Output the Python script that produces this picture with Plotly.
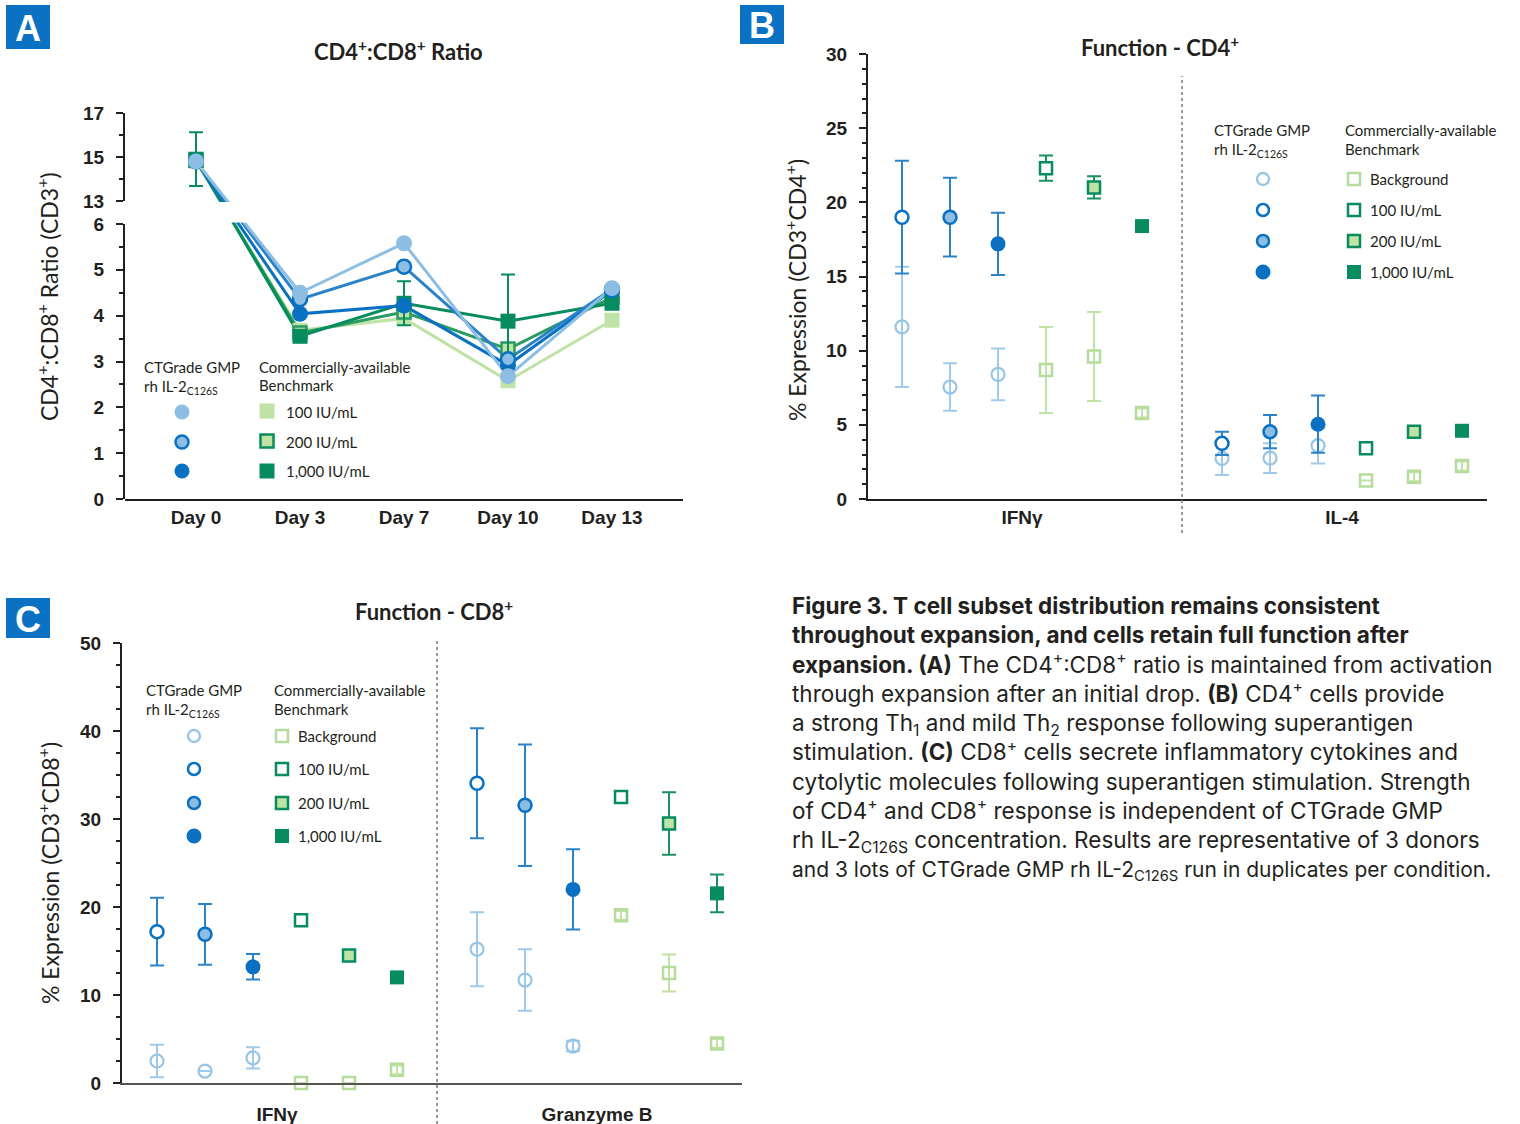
import plotly.graph_objects as go

W, H = 1520, 1124
INK = "#231f20"
DB = "#0a70c2"      # dark blue
MB = "#2a82c8"      # blue error bars / lines
LB = "#8cbee3"      # light blue fill
LBL = "#95c4e6"     # light blue outline (background)
DG = "#078c5d"      # dark green
MG = "#2a9b63"      # medium green line
LG = "#bfe3a6"      # light green fill
LGL = "#b5dc9a"     # light green outline (background)

# ---------------- Panel A data : CD4+:CD8+ ratio ----------------
days = ["Day 0", "Day 3", "Day 7", "Day 10", "Day 13"]
ratio_ct100 = [14.8, 4.50, 5.58, 2.68, 4.60]
ratio_ct200 = [14.8, 4.36, 5.07, 3.05, 4.58]
ratio_ct1000 = [14.8, 4.04, 4.22, 2.92, 4.55]
ratio_bm100 = [14.8, 3.68, 3.94, 2.58, 3.90]
ratio_bm200 = [14.85, 3.62, 4.08, 3.27, 4.40]
ratio_bm1000 = [14.9, 3.55, 4.27, 3.88, 4.27]
ratio_bm1000_err = [1.22, 0.0, 0.48, 1.02, 0.0]

# ---------------- Panel B data : Function - CD4+ ----------------
cd4_groups = ["IFNγ", "IL-4"]
cd4_ct100 = [19.0, 3.75]
cd4_ct100_err = [3.8, 0.79]
cd4_ct200 = [19.0, 4.54]
cd4_ct200_err = [2.65, 1.12]
cd4_ct1000 = [17.2, 5.04]
cd4_ct1000_err = [2.1, 1.93]
cd4_bm100 = [22.3, 3.42]
cd4_bm100_err = [0.85, 0.3]
cd4_bm200 = [21.0, 4.54]
cd4_bm200_err = [0.75, 0.0]
cd4_bm1000 = [18.4, 4.6]
cd4_bm1000_err = [0.0, 0.0]
cd4_bg_ct100 = [11.6, 2.74]
cd4_bg_ct100_err = [4.05, 1.12]
cd4_bg_ct200 = [7.55, 2.76]
cd4_bg_ct200_err = [1.6, 1.0]
cd4_bg_ct1000 = [8.4, 3.6]
cd4_bg_ct1000_err = [1.75, 1.2]
cd4_bg_bm100 = [8.7, 1.24]
cd4_bg_bm100_err = [2.9, 0.0]
cd4_bg_bm200 = [9.6, 1.5]
cd4_bg_bm200_err = [3.0, 0.3]
cd4_bg_bm1000 = [5.8, 2.22]
cd4_bg_bm1000_err = [0.3, 0.3]

# ---------------- Panel C data : Function - CD8+ ----------------
cd8_groups = ["IFNγ", "Granzyme B"]
cd8_ct100 = [17.2, 34.06]
cd8_ct100_err = [3.85, 6.25]
cd8_ct200 = [16.9, 31.56]
cd8_ct200_err = [3.45, 6.9]
cd8_ct1000 = [13.2, 22.0]
cd8_ct1000_err = [1.45, 4.55]
cd8_bm100 = [18.5, 32.5]
cd8_bm100_err = [0.5, 0.5]
cd8_bm200 = [14.5, 29.5]
cd8_bm200_err = [0.4, 3.55]
cd8_bm1000 = [12.0, 21.55]
cd8_bm1000_err = [0.0, 2.15]
cd8_bg_ct100 = [2.5, 15.2]
cd8_bg_ct100_err = [1.85, 4.2]
cd8_bg_ct200 = [1.36, 11.7]
cd8_bg_ct200_err = [0.0, 3.5]
cd8_bg_ct1000 = [2.85, 4.2]
cd8_bg_ct1000_err = [1.2, 0.6]
cd8_bg_bm100 = [0.0, 19.05]
cd8_bg_bm100_err = [0.0, 0.5]
cd8_bg_bm200 = [0.0, 12.5]
cd8_bg_bm200_err = [0.0, 2.1]
cd8_bg_bm1000 = [1.5, 4.5]
cd8_bg_bm1000_err = [0.5, 0.5]

legend_conc = ["100 IU/mL", "200 IU/mL", "1,000 IU/mL"]
legend_conc_bg = ["Background", "100 IU/mL", "200 IU/mL", "1,000 IU/mL"]

# ---------------- helpers ----------------
def dom_x(a, b):
    return [a / W, b / W]


def dom_y(top, bot):
    return [1 - bot / H, 1 - top / H]


TXT = "Lato, 'Open Sans', sans-serif"
TICKF = dict(family="Liberation Sans, Arial, sans-serif", size=19, color=INK, weight="bold")

fig = go.Figure()
shapes = []
annos = []


def ann(text, x, y, size=15, xanchor="left", family=TXT, color=INK, weight="normal", angle=0,
        yanchor="middle"):
    annos.append(dict(text=text, x=x / W, y=1 - y / H, xref="paper", yref="paper",
                      xanchor=xanchor, yanchor=yanchor, showarrow=False, textangle=angle, align="left",
                      font=dict(family=family, size=size, color=color, weight=weight)))


def sym(kind, cx, cy, d, fill, line, lw):
    shapes.append(dict(type=kind, xref="paper", yref="paper", xsizemode="pixel", ysizemode="pixel",
                       xanchor=cx / W, yanchor=1 - cy / H, x0=-d / 2, x1=d / 2, y0=-d / 2, y1=d / 2,
                       fillcolor=fill, line=dict(color=line, width=lw), layer="above"))


# ================= Panel A (broken y-axis) =================
A_LEFT, A_RIGHT = 125, 683
A_FIRST, A_STEP = 196, 104
A_LOW_TOP, A_LOW_BOT = 224, 499
A_UP_TOP, A_UP_BOT = 113, 201
A_LOW_RANGE = [0, 6]
A_UP_RANGE = [13, 17]
low_ppu = (A_LOW_BOT - A_LOW_TOP) / (A_LOW_RANGE[1] - A_LOW_RANGE[0])
up_ppu = (A_UP_BOT - A_UP_TOP) / (A_UP_RANGE[1] - A_UP_RANGE[0])
full_range = [0, (A_LOW_BOT - A_UP_TOP) / low_ppu]


def broken(v):
    """map a value onto the continuous (hidden) axis that spans both segments"""
    if v <= A_LOW_RANGE[1]:
        return v
    return (A_LOW_BOT - A_UP_BOT) / low_ppu + (v - A_UP_RANGE[0]) * up_ppu / low_ppu


seriesA = [
    (ratio_bm100, None, LG, dict(symbol="square", color=LG, size=15, line=dict(color=LG, width=0))),
    (ratio_bm200, None, MG, dict(symbol="square", color=LG, size=13, line=dict(color=MG, width=2.5))),
    (ratio_bm1000, ratio_bm1000_err, DG, dict(symbol="square", color=DG, size=15, line=dict(color=DG, width=0))),
    (ratio_ct1000, None, DB, dict(symbol="circle", color=DB, size=16, line=dict(color=DB, width=0))),
    (ratio_ct200, None, MB, dict(symbol="circle", color=LB, size=14, line=dict(color=DB, width=2.5))),
    (ratio_ct100, None, LB, dict(symbol="circle", color=LB, size=16, line=dict(color=LB, width=0))),
]

for vals, err, lc, mk in seriesA:
    fig.add_trace(go.Scatter(x=days, y=[broken(v) for v in vals], xaxis="x", yaxis="y",
                             mode="lines", line=dict(color=lc, width=3), showlegend=False,
                             hoverinfo="skip"))

for vals, err, lc, mk in seriesA:
    e0 = dict(type="data", array=[err[0]], color=DG, thickness=2, width=7, visible=True) if err else None
    e1 = dict(type="data", array=err[1:], color=DG, thickness=2, width=7, visible=True) if err else None
    fig.add_trace(go.Scatter(x=days[:1], y=vals[:1], xaxis="x", yaxis="y3", mode="markers",
                             marker=mk, error_y=e0, showlegend=False, cliponaxis=False))
    fig.add_trace(go.Scatter(x=days[1:], y=vals[1:], xaxis="x", yaxis="y2", mode="markers",
                             marker=mk, error_y=e1, showlegend=False, cliponaxis=False))

# gap of the broken axis
shapes.append(dict(type="rect", xref="paper", yref="paper", x0=(A_LEFT + 2) / W, x1=A_RIGHT / W,
                   y0=1 - (A_LOW_TOP - 1.5) / H, y1=1 - (A_UP_BOT + 1) / H,
                   fillcolor="white", line=dict(width=0), layer="above"))

# ================= Panels B and C (grouped dot plots) =================
GAP = 6.667   # distance between group centres in slot units
SLOT_PX = 48


def group_x(ngroups, slot):
    return [g * GAP + slot for g in range(ngroups)]


ct_styles = [
    dict(symbol="circle", color="white", size=13, line=dict(color=DB, width=2.5)),
    dict(symbol="circle", color=LB, size=13, line=dict(color=DB, width=2.5)),
    dict(symbol="circle", color=DB, size=15, line=dict(color=DB, width=0)),
]
bm_styles = [
    dict(symbol="square", color="white", size=12, line=dict(color=DG, width=2.5)),
    dict(symbol="square", color=LG, size=12, line=dict(color=DG, width=2.5)),
    dict(symbol="square", color=DG, size=14, line=dict(color=DG, width=0)),
]
bg_ct_style = dict(symbol="circle-open", color=LBL, size=13, line=dict(width=2.2))
bg_bm_style = dict(symbol="square-open", color=LGL, size=12, line=dict(width=2.5))


def add_dot_panel(xa, ya, stim, stim_err, bg, bg_err):
    ng = len(stim[0])
    # backgrounds first
    for s in range(6):
        style = bg_ct_style if s < 3 else bg_bm_style
        ecol = "#9fcaea" if s < 3 else "#bfe2a7"
        fig.add_trace(go.Scatter(x=group_x(ng, s), y=bg[s], xaxis=xa, yaxis=ya, mode="markers",
                                 marker=style, cliponaxis=False, showlegend=False,
                                 error_y=dict(type="data", array=bg_err[s], color=ecol,
                                              thickness=2, width=7)))
    for s in range(6):
        style = ct_styles[s] if s < 3 else bm_styles[s - 3]
        ecol = MB if s < 3 else "#1a8f60"
        fig.add_trace(go.Scatter(x=group_x(ng, s), y=stim[s], xaxis=xa, yaxis=ya, mode="markers",
                                 marker=style, cliponaxis=False, showlegend=False,
                                 error_y=dict(type="data", array=stim_err[s], color=ecol,
                                              thickness=2, width=7)))


add_dot_panel("x2", "y4",
              [cd4_ct100, cd4_ct200, cd4_ct1000, cd4_bm100, cd4_bm200, cd4_bm1000],
              [cd4_ct100_err, cd4_ct200_err, cd4_ct1000_err, cd4_bm100_err, cd4_bm200_err, cd4_bm1000_err],
              [cd4_bg_ct100, cd4_bg_ct200, cd4_bg_ct1000, cd4_bg_bm100, cd4_bg_bm200, cd4_bg_bm1000],
              [cd4_bg_ct100_err, cd4_bg_ct200_err, cd4_bg_ct1000_err, cd4_bg_bm100_err, cd4_bg_bm200_err,
               cd4_bg_bm1000_err])

add_dot_panel("x3", "y5",
              [cd8_ct100, cd8_ct200, cd8_ct1000, cd8_bm100, cd8_bm200, cd8_bm1000],
              [cd8_ct100_err, cd8_ct200_err, cd8_ct1000_err, cd8_bm100_err, cd8_bm200_err, cd8_bm1000_err],
              [cd8_bg_ct100, cd8_bg_ct200, cd8_bg_ct1000, cd8_bg_bm100, cd8_bg_bm200, cd8_bg_bm1000],
              [cd8_bg_ct100_err, cd8_bg_ct200_err, cd8_bg_ct1000_err, cd8_bg_bm100_err, cd8_bg_bm200_err,
               cd8_bg_bm1000_err])

# geometry of panels B and C
B_LEFT, B_RIGHT, B_FIRST = 868, 1487, 902
B_TOP, B_BOT = 54, 499
C_LEFT, C_RIGHT, C_FIRST = 122, 742, 157
C_TOP, C_BOT = 643, 1083


def yax(domain, rng, dtick, minor, anchor, standoff=8):
    return dict(domain=domain, range=rng, anchor=anchor, showline=True, linecolor=INK, linewidth=2,
                ticks="outside", ticklen=7, tickwidth=2, tickcolor=INK, tick0=rng[0], dtick=dtick,
                tickfont=TICKF, showgrid=False, zeroline=False, ticklabelstandoff=standoff,
                automargin=False,
                minor=dict(ticks="outside", ticklen=4, tickwidth=1.5, tickcolor=INK,
                           dtick=minor, tick0=rng[0], showgrid=False))


def xax_groups(domain, left, right, first, anchor, groups, linecolor, standoff):
    return dict(domain=domain, anchor=anchor,
                range=[(left - first) / SLOT_PX, (right - first) / SLOT_PX],
                tickmode="array", tickvals=[g * GAP + 2.5 for g in range(len(groups))],
                ticktext=groups, ticks="", showline=True, linecolor=linecolor, linewidth=2,
                showgrid=False, zeroline=False, tickfont=TICKF, ticklabelstandoff=standoff,
                automargin=False)


layout = dict(
    width=W, height=H, margin=dict(l=0, r=0, t=0, b=0, pad=0, autoexpand=False),
    paper_bgcolor="white", plot_bgcolor="rgba(0,0,0,0)", showlegend=False,
    # panel A
    xaxis=dict(domain=dom_x(A_LEFT, A_RIGHT), anchor="y", type="category", categoryarray=days,
               range=[(A_LEFT - A_FIRST) / A_STEP, (A_RIGHT - A_FIRST) / A_STEP],
               showline=True, linecolor=INK, linewidth=2, ticks="", showgrid=False, automargin=False,
               tickfont=dict(family="Liberation Sans, Arial, sans-serif", size=19, color=INK,
                             weight="bold"),
               ticklabelstandoff=0),
    yaxis=dict(domain=dom_y(A_UP_TOP, A_LOW_BOT), range=full_range, visible=False, anchor="x",
               automargin=False),
    yaxis2=yax(dom_y(A_LOW_TOP, A_LOW_BOT), A_LOW_RANGE, 1, 0.5, "x"),
    yaxis3=yax(dom_y(A_UP_TOP, A_UP_BOT), A_UP_RANGE, 2, 1, "x"),
    # panel B
    xaxis2=xax_groups(dom_x(B_LEFT, B_RIGHT), B_LEFT, B_RIGHT, B_FIRST, "y4", cd4_groups, INK, 0),
    yaxis4=yax(dom_y(B_TOP, B_BOT), [0, 30], 5, 1, "x2"),
    # panel C
    xaxis3=xax_groups(dom_x(C_LEFT, C_RIGHT), C_LEFT, C_RIGHT, C_FIRST, "y5", cd8_groups, "#555555", 13),
    yaxis5=yax(dom_y(C_TOP, C_BOT), [0, 50], 10, 2.5, "x3"),
)

# dotted dividers between the groups
shapes.append(dict(type="line", xref="x2", yref="paper", x0=2.5 + GAP / 2, x1=2.5 + GAP / 2,
                   y0=1 - 533 / H, y1=1 - 76 / H, line=dict(color="#7a7a7a", width=1.5, dash="dot")))
shapes.append(dict(type="line", xref="x3", yref="paper", x0=2.5 + GAP / 2, x1=2.5 + GAP / 2,
                   y0=0, y1=1 - 640 / H, line=dict(color="#7a7a7a", width=1.5, dash="dot")))

# panel letters
for letter, (x0, y0, x1, y1) in {"A": (6, 5, 50, 49), "B": (740, 5, 784, 44), "C": (6, 598, 50, 638)}.items():
    shapes.append(dict(type="rect", xref="paper", yref="paper", x0=x0 / W, x1=x1 / W,
                       y0=1 - y1 / H, y1=1 - y0 / H, fillcolor="#0b72c3", line=dict(width=0)))
    ann(letter, (x0 + x1) / 2, (y0 + y1) / 2 + 1, size=36, xanchor="center",
        family="Liberation Sans, Arial, sans-serif", color="white", weight="bold")

# titles
ann("CD4<sup>+</sup>:CD8<sup>+</sup> Ratio", 398, 50, size=22, xanchor="center", weight="bold")
ann("Function - CD4<sup>+</sup>", 1160, 47, size=22, xanchor="center", weight="bold")
ann("Function - CD8<sup>+</sup>", 434, 610, size=22, xanchor="center", weight="bold")

# y-axis titles
ann("CD4<sup>+</sup>:CD8<sup>+</sup> Ratio (CD3<sup>+</sup>)", 48, 297, size=23, xanchor="center", angle=-90)
ann("% Expression (CD3<sup>+</sup>CD4<sup>+</sup>)", 795, 290, size=23, xanchor="center", angle=-90)
ann("% Expression (CD3<sup>+</sup>CD8<sup>+</sup>)", 48, 873, size=23, xanchor="center", angle=-90)

# Panel A legend
ann("CTGrade GMP", 142, 367)
ann("rh IL-2<sub>C126S</sub>", 142, 387)
ann("Commercially-available", 257, 367)
ann("Benchmark", 257, 385)
for i, yy in enumerate([412, 442, 471]):
    ann(legend_conc[i], 284, yy)
sym("circle", 182, 412, 15, LB, LB, 0)
sym("circle", 182, 442, 13, LB, DB, 2.5)
sym("circle", 182, 471, 15, DB, DB, 0)
sym("rect", 267, 411, 15, LG, LG, 0)
sym("rect", 267, 441, 13, LG, DG, 2.5)
sym("rect", 267, 471, 15, DG, DG, 0)

# Panel B legend
ann("CTGrade GMP", 1212, 130)
ann("rh IL-2<sub>C126S</sub>", 1212, 150)
ann("Commercially-available", 1343, 130)
ann("Benchmark", 1343, 149)
rowsB = [179, 210, 241, 272]
for i, yy in enumerate(rowsB):
    ann(legend_conc_bg[i], 1368, yy)
sym("circle", 1263, rowsB[0], 12, "white", LBL, 2.3)
sym("circle", 1263, rowsB[1], 12, "white", DB, 2.5)
sym("circle", 1263, rowsB[2], 12, LB, DB, 2.5)
sym("circle", 1263, rowsB[3], 15, DB, DB, 0)
sym("rect", 1354, rowsB[0], 12, "white", LGL, 2.5)
sym("rect", 1354, rowsB[1], 12, "white", DG, 2.5)
sym("rect", 1354, rowsB[2], 12, LG, DG, 2.5)
sym("rect", 1354, rowsB[3], 14, DG, DG, 0)

# Panel C legend
ann("CTGrade GMP", 144, 690)
ann("rh IL-2<sub>C126S</sub>", 144, 710)
ann("Commercially-available", 272, 690)
ann("Benchmark", 272, 709)
rowsC = [736, 769, 803, 836]
for i, yy in enumerate(rowsC):
    ann(legend_conc_bg[i], 296, yy)
sym("circle", 194, rowsC[0], 12, "white", LBL, 2.3)
sym("circle", 194, rowsC[1], 12, "white", DB, 2.5)
sym("circle", 194, rowsC[2], 12, LB, DB, 2.5)
sym("circle", 194, rowsC[3], 15, DB, DB, 0)
sym("rect", 282, rowsC[0], 12, "white", LGL, 2.5)
sym("rect", 282, rowsC[1], 12, "white", DG, 2.5)
sym("rect", 282, rowsC[2], 12, LG, DG, 2.5)
sym("rect", 282, rowsC[3], 14, DG, DG, 0)

# caption
caption_lines = [
    "<b>Figure 3. T cell subset distribution remains consistent</b>",
    "<b>throughout expansion, and cells retain full function after</b>",
    "<b>expansion. (A)</b> The CD4<sup>+</sup>:CD8<sup>+</sup> ratio is maintained from activation",
    "through expansion after an initial drop. <b>(B)</b> CD4<sup>+</sup> cells provide",
    "a strong Th<sub>1</sub> and mild Th<sub>2</sub> response following superantigen",
    "stimulation. <b>(C)</b> CD8<sup>+</sup> cells secrete inflammatory cytokines and",
    "cytolytic molecules following superantigen stimulation. Strength",
    "of CD4<sup>+</sup> and CD8<sup>+</sup> response is independent of CTGrade GMP",
    "rh IL-2<sub>C126S</sub> concentration. Results are representative of 3 donors",
]
last_line = "and 3 lots of CTGrade GMP rh IL-2<sub>C126S</sub> run in duplicates per condition."
CAPF = "Inter, Roboto, sans-serif"
ann("<br>".join(caption_lines), 790, 724, size=22.5, family=CAPF)
ann(last_line, 790, 871, size=21, family=CAPF)

layout["shapes"] = shapes
layout["annotations"] = annos
fig.update_layout(**layout)
fig.write_html("out.html")
